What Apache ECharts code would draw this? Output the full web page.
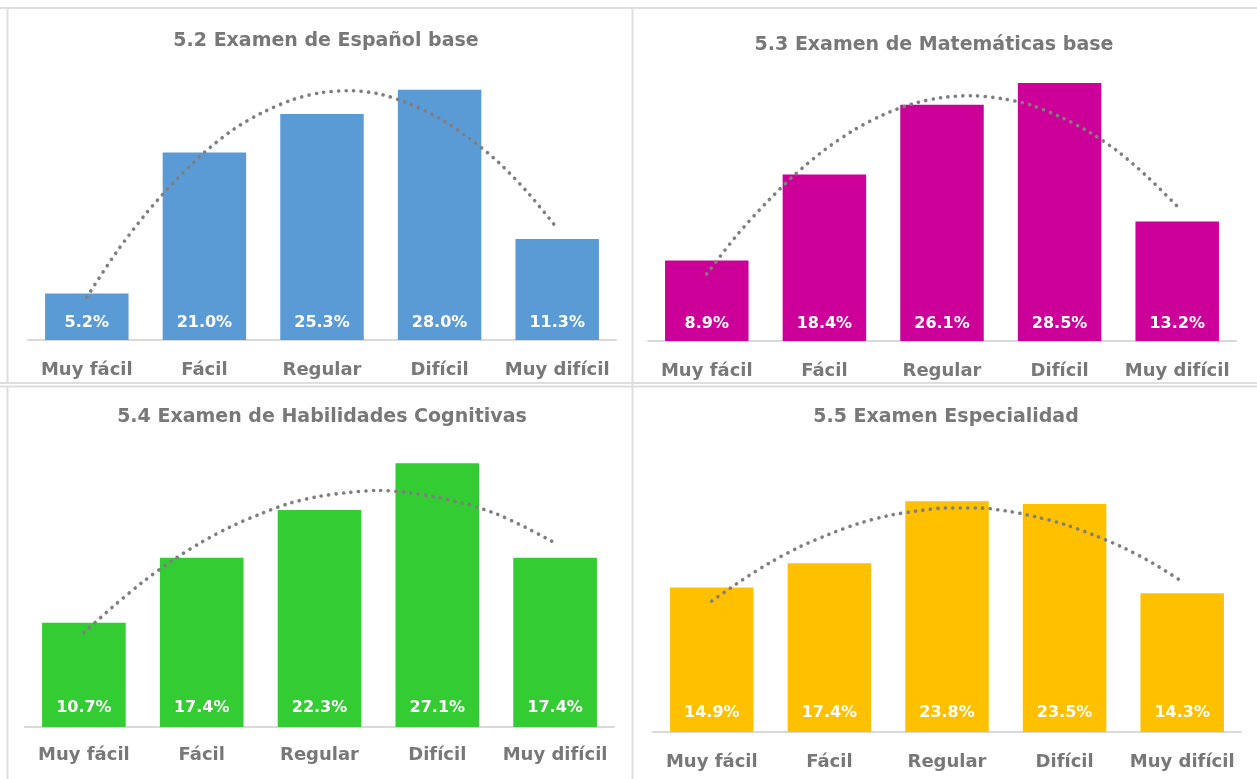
<!DOCTYPE html>
<html>
<head>
<meta charset="utf-8">
<script src="https://cdn.jsdelivr.net/npm/echarts@6/dist/echarts.min.js"></script>
<style>
html,body{margin:0;padding:0;background:#fff;}
#c{width:1257px;height:779px;}
</style>
</head>
<body>
<div id="c"></div>
<script>
const categories = ['Muy fácil', 'Fácil', 'Regular', 'Difícil', 'Muy difícil'];
const titles = ['5.2 Examen de Español base', '5.3 Examen de Matemáticas base', '5.4 Examen de Habilidades Cognitivas', '5.5 Examen Especialidad'];
const espanol = [5.2, 21.0, 25.3, 28.0, 11.3];
const matematicas = [8.9, 18.4, 26.1, 28.5, 13.2];
const habilidades = [10.7, 17.4, 22.3, 27.1, 17.4];
const especialidad = [14.9, 17.4, 23.8, 23.5, 14.3];
// dotted trendline heights, at quarter-category steps
const trendPos = [0, 0.25, 0.5, 0.75, 1, 1.25, 1.5, 1.75, 2, 2.25, 2.5, 2.75, 3, 3.25, 3.5, 3.75, 4];
const trendEspanol = [4.8, 9.8, 14.1, 17.8, 21.0, 23.6, 25.5, 26.9, 27.7, 27.9, 27.5, 26.4, 24.8, 22.6, 19.9, 16.5, 12.5];
const trendMatematicas = [7.4, 11.6, 15.2, 18.4, 21.1, 23.3, 25.0, 26.2, 26.9, 27.1, 26.8, 26.1, 24.8, 23.1, 20.9, 18.1, 14.9];
const trendHabilidades = [9.7, 12.4, 14.9, 17.1, 19.0, 20.6, 21.9, 23.0, 23.7, 24.1, 24.3, 24.1, 23.6, 22.9, 21.9, 20.5, 18.9];
const trendEspecialidad = [13.5, 15.6, 17.5, 19.1, 20.4, 21.5, 22.3, 22.8, 23.1, 23.1, 22.8, 22.2, 21.4, 20.3, 19.0, 17.4, 15.5];

const barValues = [espanol, matematicas, habilidades, especialidad];
const trends = [trendEspanol, trendMatematicas, trendHabilidades, trendEspecialidad];
const colors = ['#5B9BD5', '#CC0099', '#33CC33', '#FFC000'];

const FONT = '"DejaVu Sans", sans-serif';
const GRAY = '#787878';

const grids = [
  {left: 28, top: 72, width: 588, height: 268},
  {left: 648, top: 69.5, width: 588, height: 271.5},
  {left: 25, top: 435, width: 589, height: 292},
  {left: 653, top: 441, width: 588, height: 291}
];
const labelMargins = [21, 21, 19, 21];
const valueDist = [9, 9, 11, 11];
const titlePos = [[326, 41], [934, 45], [322, 417], [946, 417]];

const xAxis = [], yAxis = [], series = [];
grids.forEach((g, i) => {
  xAxis.push({
    type: 'category', gridIndex: i, data: categories,
    axisLine: {lineStyle: {color: '#d9d9d9', width: 2}},
    axisTick: {show: false},
    axisLabel: {color: GRAY, fontFamily: FONT, fontWeight: 'bold', fontSize: 18, margin: labelMargins[i], interval: 0}
  });
  xAxis.push({type: 'value', gridIndex: i, min: -0.5, max: 4.5, show: false});
  yAxis.push({type: 'value', gridIndex: i, min: 0, max: 30, show: false, splitLine: {show: false}});
  series.push({
    type: 'bar', xAxisIndex: 2 * i, yAxisIndex: i, data: barValues[i],
    barCategoryGap: '29%',
    itemStyle: {color: colors[i]},
    label: {
      show: true, position: 'insideBottom', distance: valueDist[i],
      color: '#ffffff', fontFamily: FONT, fontWeight: 'bold', fontSize: 16,
      formatter: p => p.value.toFixed(1) + '%'
    },
    silent: true
  });
  series.push({
    type: 'line', xAxisIndex: 2 * i + 1, yAxisIndex: i,
    data: trendPos.map((x, k) => [x, trends[i][k]]),
    smooth: 0.3, symbol: 'none',
    lineStyle: {color: '#7f7f7f', width: 3.6, type: [0.1, 7.4], cap: 'round'},
    z: 5, silent: true
  });
});

const graphic = [];
const lineCol = '#dedede';
function addLine(x1, y1, x2, y2, w) {
  graphic.push({type: 'line', shape: {x1, y1, x2, y2}, style: {stroke: lineCol, lineWidth: w || 2}, silent: true});
}
addLine(0, 8, 1257, 8);
addLine(7.5, 8, 7.5, 383);
addLine(632.5, 8, 632.5, 779);
addLine(0, 383, 1257, 383);
addLine(0, 386.5, 1257, 386.5);
addLine(7.5, 386.5, 7.5, 779);
titles.forEach((t, i) => {
  graphic.push({
    type: 'text', x: titlePos[i][0], y: titlePos[i][1], silent: true,
    style: {text: t, fill: GRAY, font: 'bold 19px ' + FONT, align: 'center', verticalAlign: 'middle', textAlign: 'center', textVerticalAlign: 'middle'}
  });
});

const chart = echarts.init(document.getElementById('c'), null, {renderer: 'canvas'});
chart.setOption({
  animation: false,
  backgroundColor: '#ffffff',
  grid: grids,
  xAxis, yAxis, series, graphic
});
</script>
</body>
</html>
